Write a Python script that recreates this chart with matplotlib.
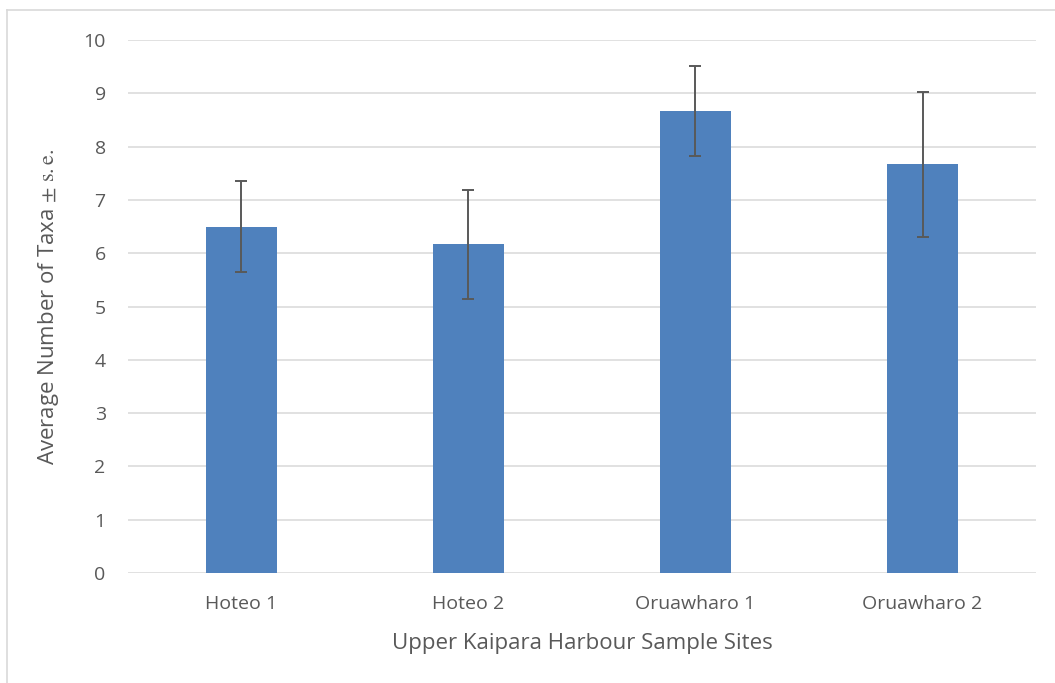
import matplotlib.pyplot as plt
import numpy as np

sites = ['Hoteo 1', 'Hoteo 2', 'Oruawharo 1', 'Oruawharo 2']
avg_taxa = [6.5, 6.17, 8.67, 7.67]
std_err = [0.85, 1.02, 0.85, 1.36]
yticks = list(range(0, 11))

plt.rcParams['font.family'] = ['Open Sans', 'DejaVu Sans']
plt.rcParams['mathtext.fontset'] = 'stix'

fig = plt.figure(figsize=(10.55, 6.83), dpi=100)
ax = fig.add_axes([0.1213, 0.161, 0.8607, 0.7804])

x = np.arange(len(sites))
ax.bar(x, avg_taxa, width=0.31, color='#4F81BD', zorder=2)
ax.errorbar(x, avg_taxa, yerr=std_err, fmt='none', ecolor='#595959',
            elinewidth=1.4, capsize=4.3, capthick=1.4, zorder=3)

ax.set_xlim(-0.5, len(sites) - 0.5)
ax.set_ylim(0, 10)
ax.set_yticks(yticks)
ax.set_xticks(x)
ax.set_xticklabels(sites)
ax.yaxis.grid(True, color='#D9D9D9', linewidth=1.1, zorder=0)
for s in ax.spines.values():
    s.set_visible(False)
ax.tick_params(axis='both', length=0, labelsize=14, colors='#595959')
ax.tick_params(axis='x', pad=16)
ax.tick_params(axis='y', pad=16)

ax.set_xlabel('Upper Kaipara Harbour Sample Sites', fontsize=16, color='#595959', labelpad=14)
ax.set_ylabel(r'Average Number of Taxa $\pm\ \mathrm{s.e.}$', fontsize=16, color='#595959', labelpad=16)

# chart area border (light grey, left and top only visible)
fig.add_artist(plt.Line2D([7 / 1055, 7 / 1055], [0, 1 - 10 / 683],
                          color='#D9D9D9', linewidth=1.2))
fig.add_artist(plt.Line2D([7 / 1055, 1], [1 - 10 / 683, 1 - 10 / 683],
                          color='#D9D9D9', linewidth=1.2))

fig.savefig('out.png', dpi=100)
